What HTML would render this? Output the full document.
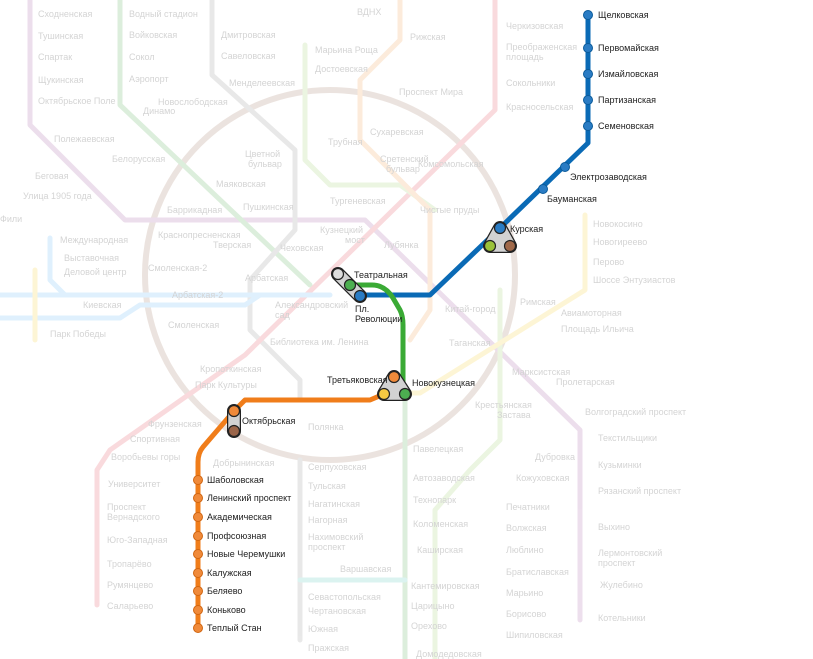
<!DOCTYPE html>
<html><head><meta charset="utf-8"><style>
html,body{margin:0;padding:0;background:#fff;}
svg{display:block;font-family:"Liberation Sans","DejaVu Sans",sans-serif;}
.f text{font-size:9px;fill:#d4d4d4;}
.hl text{font-size:9px;fill:#222;}
</style></head><body>
<svg width="813" height="659" viewBox="0 0 813 659">
<g fill="none" stroke-width="5" stroke-linecap="round" stroke-linejoin="round" opacity="0.16">
 <circle cx="330" cy="275" r="185" stroke="#8b5a3c" stroke-width="6"/>
 <path d="M30 0 V125 L125 220 H365 L580 430 V620" stroke="#8e3a8f"/>
 <path d="M120 0 V105 L310 285" stroke="#2a9d2a"/>
 <path d="M405 400 V659" stroke="#2a9d2a"/>
 <path d="M212 0 V75 L295 150 V230 L250 280 V330 L300 380 V400" stroke="#777"/>
 <path d="M300 460 V640" stroke="#777"/>
 <path d="M495 0 V110 L245 355 L110 450 L97 470 V605" stroke="#e02030"/>
 <path d="M305 45 V160 L330 185 H400 L435 210" stroke="#8bc34a"/>
 <path d="M500 290 V440 L470 470 L435 510 V659" stroke="#8bc34a"/>
 <path d="M400 0 V40 L360 80 V140 L400 180 L430 210 V310 L410 340" stroke="#f08a24"/>
 <path d="M0 295 H330 M0 318 H120 L140 305 H245 L260 295" stroke="#3fa9f5"/>
 <path d="M50 238 V280 L65 295" stroke="#3fa9f5"/>
 <path d="M585 215 V290 L420 393 H380" stroke="#f5c400"/>
 <path d="M35 270 V340" stroke="#f5c400"/>
 <path d="M300 580 H405" stroke="#29b6a8"/>
</g>
<g class="f">
 <text x="38" y="17">Сходненская</text><text x="38" y="39">Тушинская</text><text x="38" y="60">Спартак</text>
 <text x="38" y="83">Щукинская</text><text x="38" y="104">Октябрьское Поле</text>
 <text x="129" y="17">Водный стадион</text><text x="129" y="38">Войковская</text><text x="129" y="60">Сокол</text><text x="129" y="82">Аэропорт</text>
 <text x="221" y="38">Дмитровская</text><text x="221" y="59">Савеловская</text>
 <text x="315" y="53">Марьина Роща</text><text x="315" y="72">Достоевская</text>
 <text x="229" y="86">Менделеевская</text><text x="158" y="105">Новослободская</text><text x="143" y="114">Динамо</text>
 <text x="54" y="142">Полежаевская</text><text x="35" y="179">Беговая</text><text x="23" y="199">Улица 1905 года</text>
 <text x="112" y="162">Белорусская</text><text x="216" y="187">Маяковская</text><text x="245" y="157">Цветной</text><text x="248" y="167">бульвар</text>
 <text x="328" y="145">Трубная</text><text x="370" y="135">Сухаревская</text><text x="380" y="162">Сретенский</text><text x="386" y="172">бульвар</text>
 <text x="167" y="213">Баррикадная</text><text x="243" y="210">Пушкинская</text><text x="330" y="204">Тургеневская</text><text x="420" y="213">Чистые пруды</text>
 <text x="158" y="238">Краснопресненская</text><text x="213" y="248">Тверская</text><text x="280" y="251">Чеховская</text>
 <text x="320" y="233">Кузнецкий</text><text x="345" y="243">мост</text><text x="384" y="248">Лубянка</text>
 <text x="60" y="243">Международная</text><text x="64" y="261">Выставочная</text><text x="64" y="275">Деловой центр</text>
 <text x="148" y="271">Смоленская-2</text><text x="245" y="281">Арбатская</text><text x="172" y="298">Арбатская-2</text>
 <text x="83" y="308">Киевская</text><text x="275" y="308">Александровский</text><text x="275" y="318">сад</text>
 <text x="168" y="328">Смоленская</text><text x="50" y="337">Парк Победы</text><text x="445" y="312">Китай-город</text>
 <text x="270" y="345">Библиотека им. Ленина</text><text x="200" y="372">Кропоткинская</text><text x="195" y="388">Парк Культуры</text>
 <text x="449" y="346">Таганская</text><text x="520" y="305">Римская</text><text x="561" y="316">Авиамоторная</text><text x="561" y="332">Площадь Ильича</text>
 <text x="512" y="375">Марксистская</text><text x="556" y="385">Пролетарская</text><text x="475" y="408">Крестьянская</text><text x="497" y="418">Застава</text>
 <text x="585" y="415">Волгоградский проспект</text><text x="598" y="441">Текстильщики</text><text x="598" y="468">Кузьминки</text><text x="598" y="494">Рязанский проспект</text>
 <text x="598" y="530">Выхино</text><text x="598" y="556">Лермонтовский</text><text x="598" y="566">проспект</text><text x="600" y="588">Жулебино</text><text x="598" y="621">Котельники</text>
 <text x="413" y="452">Павелецкая</text><text x="413" y="481">Автозаводская</text><text x="413" y="503">Технопарк</text><text x="413" y="527">Коломенская</text>
 <text x="417" y="553">Каширская</text><text x="411" y="589">Кантемировская</text><text x="411" y="609">Царицыно</text><text x="411" y="629">Орехово</text><text x="416" y="657">Домодедовская</text>
 <text x="535" y="460">Дубровка</text><text x="516" y="481">Кожуховская</text><text x="506" y="510">Печатники</text><text x="506" y="531">Волжская</text>
 <text x="506" y="553">Люблино</text><text x="506" y="575">Братиславская</text><text x="506" y="596">Марьино</text><text x="506" y="617">Борисово</text><text x="506" y="638">Шипиловская</text>
 <text x="593" y="227">Новокосино</text><text x="593" y="245">Новогиреево</text><text x="593" y="265">Перово</text><text x="593" y="283">Шоссе Энтузиастов</text>
 <text x="506" y="29">Черкизовская</text><text x="506" y="50">Преображенская</text><text x="506" y="60">площадь</text><text x="506" y="86">Сокольники</text><text x="506" y="110">Красносельская</text>
 <text x="418" y="167">Комсомольская</text>
 <text x="148" y="427">Фрунзенская</text><text x="130" y="442">Спортивная</text><text x="111" y="460">Воробьевы горы</text>
 <text x="108" y="487">Университет</text><text x="107" y="510">Проспект</text><text x="107" y="520">Вернадского</text><text x="107" y="543">Юго-Западная</text>
 <text x="107" y="567">Тропарёво</text><text x="107" y="588">Румянцево</text><text x="107" y="609">Саларьево</text>
 <text x="213" y="466">Добрынинская</text><text x="308" y="430">Полянка</text><text x="308" y="470">Серпуховская</text><text x="308" y="489">Тульская</text>
 <text x="308" y="507">Нагатинская</text><text x="308" y="523">Нагорная</text><text x="308" y="540">Нахимовский</text><text x="308" y="550">проспект</text>
 <text x="340" y="572">Варшавская</text><text x="308" y="600">Севастопольская</text><text x="308" y="614">Чертановская</text><text x="308" y="632">Южная</text><text x="308" y="651">Пражская</text>
 <text x="0" y="222">Фили</text><text x="357" y="15">ВДНХ</text><text x="410" y="40">Рижская</text><text x="399" y="95">Проспект Мира</text>
</g>
<g fill="none" stroke-linecap="round" stroke-linejoin="round" stroke-width="5">
 <path d="M588 15 V143 L500 228 L430 295 H360" stroke="#0a6ab5"/>
 <path d="M350 285 H372 Q385 285 393 298 L400 310 Q403 316 403 325 V393" stroke="#3aaa35"/>
 <path d="M384 394 L370 400 H245 L234 411 M234 411 L203 447 Q198 453 198 462 V628" stroke="#f07d1a"/>
</g>
<g stroke="#222" stroke-width="1.5">
 <path d="M500 228 L490 246 L510 246 Z" fill="#ccc" stroke-width="14" stroke-linejoin="round"/>
 <path d="M394 377 L384 394 L405 394 Z" fill="#ccc" stroke-width="14" stroke-linejoin="round"/>
 <path d="M338 274 L360 296" stroke-width="14" stroke-linecap="round"/>
 <path d="M234 411 L234 431" stroke-width="14" stroke-linecap="round"/>
</g>
<g stroke="#d2d2d2">
 <path d="M500 228 L490 246 L510 246 Z" fill="#d2d2d2" stroke-width="11.5" stroke-linejoin="round"/>
 <path d="M394 377 L384 394 L405 394 Z" fill="#d2d2d2" stroke-width="11.5" stroke-linejoin="round"/>
 <path d="M338 274 L360 296" stroke-width="11.5" stroke-linecap="round"/>
 <path d="M234 411 L234 431" stroke-width="11.5" stroke-linecap="round"/>
</g>
<g stroke="#222" stroke-width="1.2">
 <circle cx="500" cy="228" r="5.5" fill="#2a7cc4"/><circle cx="490" cy="246" r="5.5" fill="#9bc23a"/><circle cx="510" cy="246" r="5.5" fill="#a0694a"/>
 <circle cx="338" cy="274" r="5.5" fill="#ddd"/><circle cx="350" cy="285" r="5.5" fill="#4caf50"/><circle cx="360" cy="296" r="5.5" fill="#2a7cc4"/>
 <circle cx="394" cy="377" r="5.5" fill="#f08a3a"/><circle cx="384" cy="394" r="5.5" fill="#f5c842"/><circle cx="405" cy="394" r="5.5" fill="#4caf50"/>
 <circle cx="234" cy="411" r="5.5" fill="#f08a3a"/><circle cx="234" cy="431" r="5.5" fill="#9a6448"/>
</g>
<g stroke="#0a5a9a" stroke-width="1" fill="#2a7cc4">
 <circle cx="588" cy="15" r="4.5"/><circle cx="588" cy="48" r="4.5"/><circle cx="588" cy="74" r="4.5"/><circle cx="588" cy="100" r="4.5"/><circle cx="588" cy="126" r="4.5"/>
 <circle cx="565" cy="167" r="4.5"/><circle cx="543" cy="189" r="4.5"/>
</g>
<g stroke="#d06510" stroke-width="1" fill="#f08a3a">
 <circle cx="198" cy="480" r="4.5"/><circle cx="198" cy="498" r="4.5"/><circle cx="198" cy="517" r="4.5"/><circle cx="198" cy="536" r="4.5"/><circle cx="198" cy="554" r="4.5"/>
 <circle cx="198" cy="573" r="4.5"/><circle cx="198" cy="591" r="4.5"/><circle cx="198" cy="610" r="4.5"/><circle cx="198" cy="628" r="4.5"/>
</g>
<g class="hl">
 <text x="598" y="18">Щелковская</text><text x="598" y="51">Первомайская</text><text x="598" y="77">Измайловская</text><text x="598" y="103">Партизанская</text><text x="598" y="129">Семеновская</text>
 <text x="570" y="180">Электрозаводская</text><text x="547" y="202">Бауманская</text><text x="510" y="232">Курская</text>
 <text x="354" y="278">Театральная</text><text x="355" y="312">Пл.</text><text x="355" y="322">Революции</text>
 <text x="327" y="383">Третьяковская</text><text x="412" y="386">Новокузнецкая</text><text x="242" y="424">Октябрьская</text>
 <text x="207" y="483">Шаболовская</text><text x="207" y="501">Ленинский проспект</text><text x="207" y="520">Академическая</text><text x="207" y="539">Профсоюзная</text>
 <text x="207" y="557">Новые Черемушки</text><text x="207" y="576">Калужская</text><text x="207" y="594">Беляево</text><text x="207" y="613">Коньково</text><text x="207" y="631">Теплый Стан</text>
</g>
</svg>
</body></html>
